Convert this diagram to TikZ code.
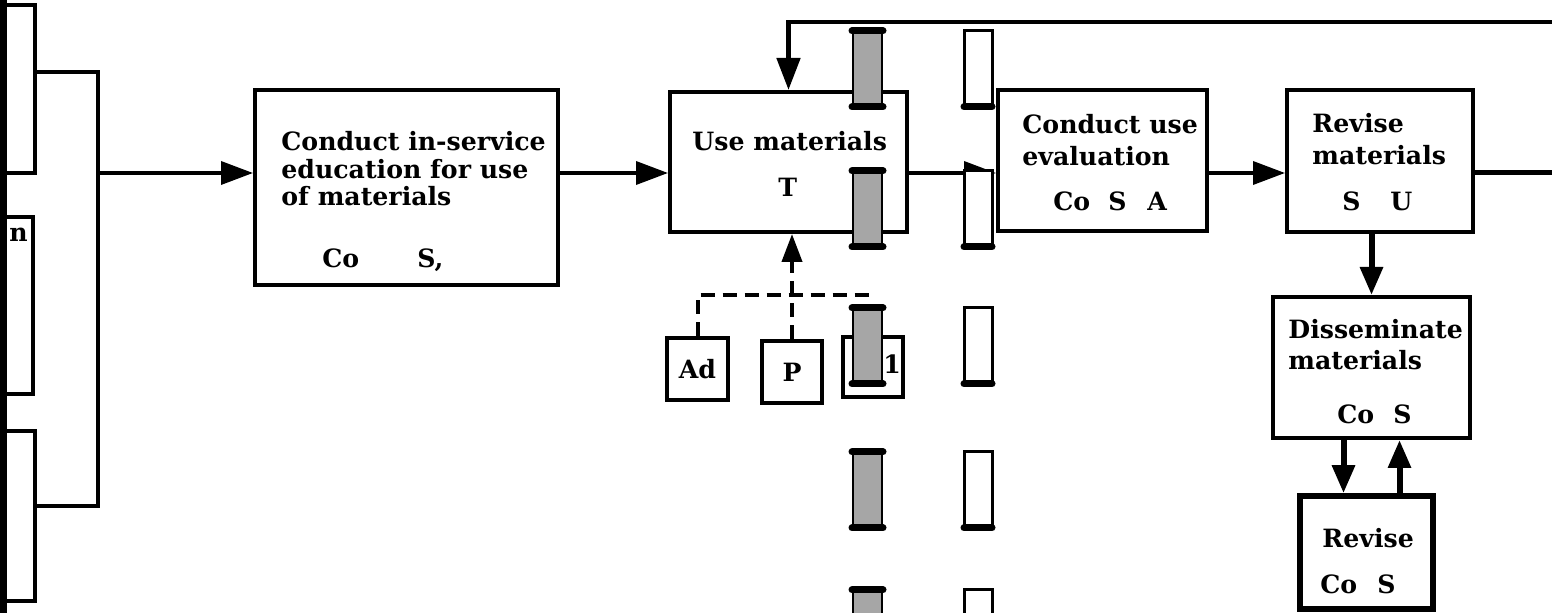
\documentclass[tikz,border=0pt]{standalone}
\usepackage{fontspec}
\setmainfont{DejaVu Serif}
\usetikzlibrary{arrows.meta}

\begin{document}
\begin{tikzpicture}[
  x = 0.5pt, y = -0.5pt,
  % Boxes are empty nodes; their wording sits in the nodes placed inside them.
  box/.style      = {draw, line width=2pt, inner sep=0pt,
                     font=\bfseries\fontsize{12.6}{14}\selectfont},
  title/.style    = {anchor=north west, align=left, inner sep=0pt,
                     font=\bfseries\fontsize{12.6}{#1}\selectfont},
  title/.default  = 16pt,
  code/.style     = {anchor=base west, inner sep=0pt,
                     font=\bfseries\fontsize{12.6}{14}\selectfont},
  link/.style     = {line width=1.8pt},
  flow/.style     = {link, -{Triangle[length=16pt, width=11.5pt]}},
  heavy/.style    = {line width=3pt, -{Triangle[length=14pt, width=11pt]}},
  dashlink/.style = {line width=2pt, dash pattern=on 7pt off 4pt},
  barL/.style     = {fill=black!35, draw, line width=1pt},
  barR/.style     = {fill=white, draw, line width=1.5pt},
  barcap/.style   = {line width=3.5pt, line cap=round},
]
\useasboundingbox (0,0) rectangle (1552,613);

% --- inputs, cut off at the page edge
\node[box, minimum width=22.5pt, minimum height=84pt]   (in1) at (12.5,89)    {};
\node[box, minimum width=21.5pt, minimum height=88.5pt] (in2) at (11.5,305.5) {};
\node[box, minimum width=22.5pt, minimum height=85pt]   (in3) at (12.5,516)   {};
\fill (0,0) rectangle (7,613);
\node[code] (in2-t) at (9,242) {n};

\coordinate (flow) at (0,173);
\coordinate (jt) at (98,72);
\coordinate (jb) at (98,506);
\draw[link] (jt -| in1.east) -- (jt) -- (jb) -- (jb -| in3.east);

% --- main row
\node[box, minimum width=151.5pt, minimum height=97.5pt] (A) at (406.5,187.5) {};
\node[title=13.75pt] (A-t) at (281,131) {Conduct in-service\\education for use\\of materials};
\node[code] (A-co) at (322,268) {Co};
\node[code] (A-s)  at (417,268) {S,};

\node[box, minimum width=118.5pt, minimum height=70pt] (B) at (788.5,162) {};
\node[title] (B-t) at (692,131) {Use materials};
\node[code] (B-t2) at (778,197) {T};

\node[box, minimum width=104.5pt, minimum height=70.5pt] (C) at (1102.5,160.5) {};
\node[title] (C-t) at (1022,114) {Conduct use\\evaluation};
\node[code] (C-co) at (1053,211) {Co};
\node[code] (C-s)  at (1108,211) {S};
\node[code] (C-a)  at (1147,211) {A};

\node[box, minimum width=93pt, minimum height=71pt] (D) at (1380,161) {};
\node[title] (D-t) at (1312,112.5) {Revise\\materials};
\node[code] (D-s) at (1342,211) {S};
\node[code] (D-u) at (1390,211) {U};

\draw[flow] (jt |- flow) -- (A.west |- flow);
\draw[flow] (A.east |- flow) -- (B.west |- flow);
\draw[flow] (B.east |- flow) -- (C.west |- flow);
\draw[flow] (C.east |- flow) -- (D.west |- flow);

% --- loop back over the top
\coordinate (outR) at (1560,22);
\draw[link, line width=2.5pt] (D.east |- flow) -- (outR |- flow);
\draw[flow, line width=2.4pt] (outR) -- (outR -| B.north) -- (B.north);

% --- support under "Use materials"
\node[box, minimum width=30.5pt, minimum height=31pt] (Ad) at (697.5,369) {Ad};
\node[box, minimum width=30pt, minimum height=31pt]   (P)  at (792,372)   {P};
\node[box, minimum width=30pt, minimum height=30pt]   (X)  at (873,367)   {};
\node[code] (X-t) at (883,374) {1};

\coordinate (dashR) at (875,295);
\draw[dashlink] (Ad.north) |- (dashR);
\draw[dashlink] (P.north) -- (P.north |- dashR);
\draw[dashlink, -{Triangle[length=14pt, width=10pt]}] (P.north |- dashR) -- (P.north |- B.south);

% --- dissemination
\node[box, minimum width=98.5pt, minimum height=70.5pt] (E) at (1371.5,367.5) {};
\node[title=15.5pt] (E-t) at (1288,319) {Disseminate\\materials};
\node[code] (E-co) at (1337,424) {Co};
\node[code] (E-s)  at (1393,424) {S};
\draw[heavy] (D.south -| E.north) -- (E.north);

\node[box, line width=2.8pt, minimum width=66.5pt, minimum height=56.5pt] (F) at (1366.5,552.5) {};
\node[code] (F-t)  at (1322,548) {Revise};
\node[code] (F-co) at (1320,594) {Co};
\node[code] (F-s)  at (1377,594) {S};
\draw[heavy] ([xshift=-14pt]E.south) -- ([xshift=-14pt]E.south |- F.north);
\draw[heavy] ([xshift=14pt]E.south |- F.north) -- ([xshift=14pt]E.south);

% --- torn strips across the page
\foreach \y in {31,171,308,452,590} {
  \filldraw[barL] (853,\y) rectangle (882,\y+76);
  \draw[barcap] (852,\y) -- (883,\y);
  \draw[barcap] (852,\y+76) -- (883,\y+76);
  \filldraw[barR] (964,\y) rectangle (992,\y+76);
  \draw[barcap] (964,\y+76) -- (992,\y+76);
}

\end{tikzpicture}
\end{document}
